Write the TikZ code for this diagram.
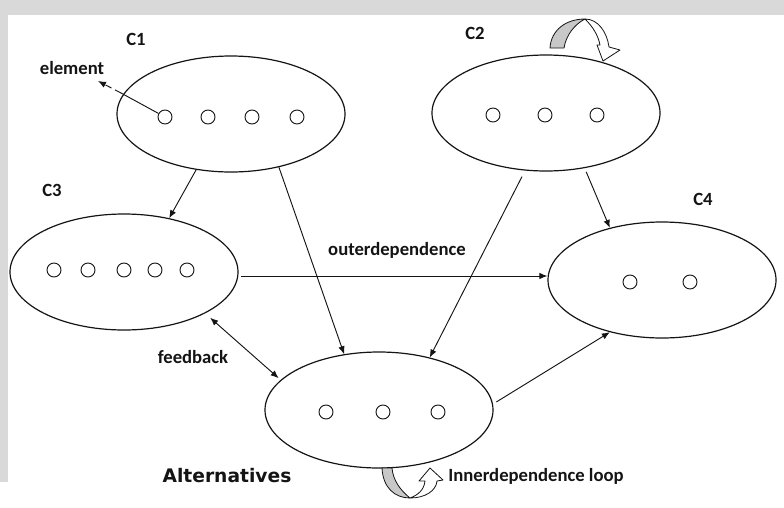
\documentclass[tikz,border=0pt]{standalone}
\usepackage{fontspec}
\setmainfont{Carlito}
\newfontfamily\altfont{DejaVu Sans}
\usetikzlibrary{arrows.meta,shapes.geometric}
\definecolor{ink}{RGB}{20,20,20}
\definecolor{scan}{RGB}{217,217,217}
\definecolor{fold}{RGB}{200,200,200}
\tikzset{
  >={Latex[length=2.1mm,width=1.7mm]},
  cluster/.style={ellipse,draw=ink,line width=0.9pt,minimum width=171pt,minimum height=87pt,inner sep=0pt},
  dot/.style={circle,draw=ink,line width=0.7pt,minimum size=10.5pt,inner sep=0pt},
  tag/.style={font=\bfseries\fontsize{14}{16}\selectfont,text=ink,inner sep=0pt},
  flow/.style={->,draw=ink,line width=0.7pt},
  ribbon/.style={draw=ink,line width=0.6pt,line join=round},
}
\begin{document}
\begin{tikzpicture}[x=0.75pt,y=-0.75pt]
  \useasboundingbox (0,0) rectangle (784,507);
  \fill[scan] (0,0) rectangle (784,507);
  \fill[white] (8,15) rectangle (784,507);
  \fill[white] (0,482) rectangle (8,507);
  % clusters
  \node[cluster] (C1) at (231,114) {};
  \node[cluster] (C2) at (546,113) {};
  \node[cluster] (C3) at (124,272) {};
  \node[cluster] (C4) at (662,280) {};
  \node[cluster] (alt) at (379,410) {};
  % elements
  \foreach \x [count=\i] in {165,208,252,297} \node[dot] (c1-\i) at (\x,117) {};
  \foreach \x [count=\i] in {493,545,597} \node[dot] (c2-\i) at (\x,115) {};
  \foreach \x [count=\i] in {54,88,124,155,187} \node[dot] (c3-\i) at (\x,270) {};
  \foreach \x [count=\i] in {630,690} \node[dot] (c4-\i) at (\x,282) {};
  \foreach \x [count=\i] in {326,383,438} \node[dot] (a-\i) at (\x,412) {};
  % labels
  \node[tag] (l1) at (136,39) {C1};
  \node[tag] (l2) at (475,33) {C2};
  \node[tag] (l3) at (52,190) {C3};
  \node[tag] (l4) at (703,199) {C4};
  \node[tag] (elem) at (72,68) {element};
  \node[tag] (outer) at (397,250) {outerdependence};
  \node[tag] (fb) at (193,357) {feedback};
  \node[tag] (inner) at (536,476) {Innerdependence loop};
  \node[inner sep=0pt,text=ink,font=\altfont\bfseries\fontsize{14}{16}\selectfont] (altname) at (227,476) {Alternatives};
  % element pointer
  \coordinate (elemtip) at (98,81);
  \coordinate (rim) at (121,93);
  \draw[ink,line width=0.7pt] (c1-1) -- (rim);
  \draw[flow,dash pattern=on 5pt off 3pt] (rim) -- (elemtip);
  % dependences
  \draw[flow] (C1.238) -- (C3.50);
  \draw[flow] (C1.312) -- (alt.122);
  \draw[flow,shorten <=5pt] (C2.250) -- (alt.46);
  \draw[flow,shorten <=3pt] (C2.305) -- (C4.135);
  \draw[flow,shorten <=2pt] (C3.-2) -- (C3.-2 -| C4.west);
  \draw[<->,draw=ink,line width=0.7pt,shorten <=5pt,shorten >=2pt] (C3.333) -- (alt.163);
  \draw[flow,shorten <=3pt] (alt.3) -- (C4.225);
  % loops
  \filldraw[ribbon,fill=fold] (550,48) .. controls (551,30) and (566,19) .. (585,19)
    .. controls (575,24) and (566,35) .. (564,48) -- cycle;
  \filldraw[ribbon,fill=white] (585,19) .. controls (598,19) and (607,32) .. (609,47)
    -- (620,50) -- (603,61) -- (597,45) -- (600,45) .. controls (598,35) and (593,27) .. (585,19) -- cycle;
  \filldraw[ribbon,fill=fold] (382,468) .. controls (383,488) and (395,498) .. (410,498)
    .. controls (400,490) and (393,480) .. (392,468) -- cycle;
  \filldraw[ribbon,fill=white] (410,498) .. controls (425,498) and (436,491) .. (437,481)
    -- (443,480) -- (430,468) -- (419,481) -- (425,481) .. controls (424,490) and (418,495) .. (410,498) -- cycle;
\end{tikzpicture}
\end{document}
